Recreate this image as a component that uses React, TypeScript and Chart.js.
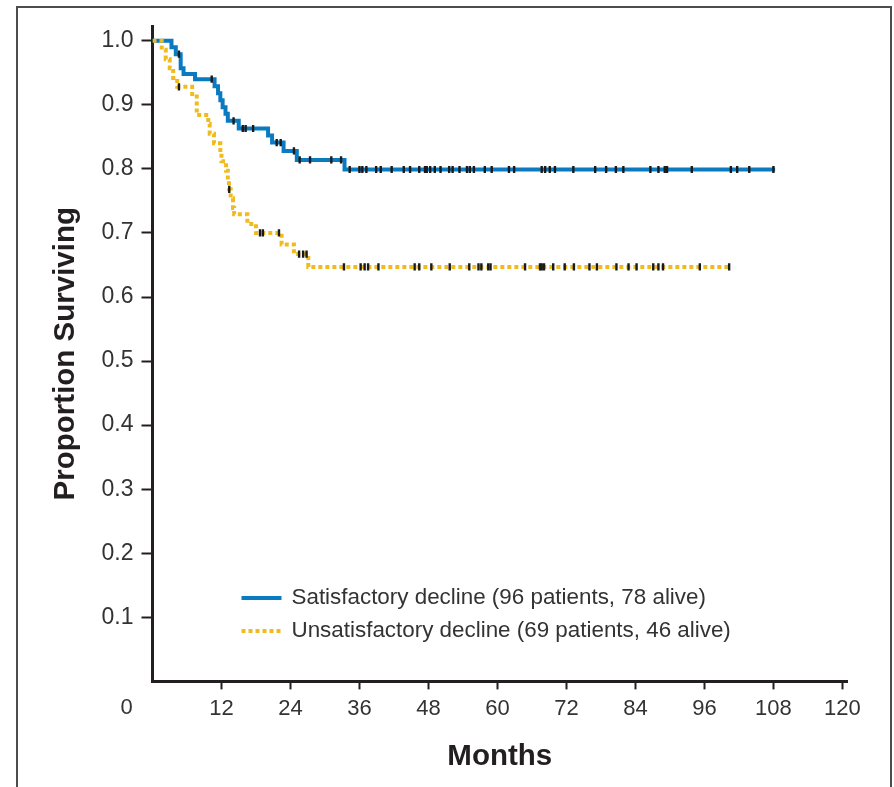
import React, { useEffect, useRef } from "react";
import { Chart, registerables } from "chart.js";

Chart.register(...registerables);

// ---- Data ----
// Kaplan-Meier step points: time in months, survival proportion after the event
const satisfactoryTimes = [0, 3.3, 4.05, 4.9, 5.4, 7.4, 10.8, 11.4, 11.8, 12.2, 12.7, 13.1, 15.0, 20.1, 20.8, 22.8, 25.1, 33.4, 108.3];
const satisfactorySurvival = [1.0, 0.99, 0.979, 0.957, 0.948, 0.94, 0.929, 0.918, 0.907, 0.896, 0.886, 0.875, 0.863, 0.852, 0.841, 0.828, 0.814, 0.799, 0.799];
const satisfactoryCensored = [4.6, 10.3, 14.1, 15.7, 16.2, 17.5, 21.6, 22.3, 24.6, 25.6, 27.4, 31.1, 32.8, 34.3, 36.0, 36.5, 37.2, 38.9, 39.7, 41.6, 43.7, 44.8, 46.4, 47.4, 47.7, 48.3, 49.1, 50.1, 51.6, 52.2, 53.4, 54.7, 55.2, 55.9, 57.8, 59.0, 62.0, 62.9, 67.7, 68.3, 69.1, 70.0, 73.2, 77.0, 78.9, 80.6, 81.9, 86.6, 88.0, 89.1, 89.5, 93.8, 100.6, 101.7, 103.8, 108.0];

const unsatisfactoryTimes = [0, 1.6, 2.3, 3.0, 3.6, 4.3, 6.9, 7.7, 9.7, 9.95, 10.7, 11.8, 12.0, 12.8, 13.1, 13.3, 13.6, 14.0, 14.2, 16.5, 18.0, 22.45, 24.6, 27.1, 100.5];
const unsatisfactorySurvival = [1.0, 0.986, 0.971, 0.957, 0.942, 0.928, 0.913, 0.884, 0.87, 0.855, 0.84, 0.826, 0.812, 0.797, 0.783, 0.768, 0.754, 0.739, 0.729, 0.714, 0.7, 0.682, 0.667, 0.647, 0.647];
const unsatisfactoryCensored = [4.6, 13.35, 18.7, 19.2, 22.0, 25.5, 26.2, 26.8, 33.3, 36.2, 36.9, 37.5, 39.3, 45.6, 46.4, 48.5, 51.7, 55.1, 56.7, 57.2, 58.4, 58.8, 64.8, 67.4, 67.7, 68.1, 69.7, 71.7, 73.3, 76.0, 77.3, 80.7, 82.8, 84.2, 87.1, 88.0, 88.8, 95.2, 100.3];

const seriesLabels = [
  "Satisfactory decline (96 patients, 78 alive)",
  "Unsatisfactory decline (69 patients, 46 alive)",
];
const xTickValues = [12, 24, 36, 48, 60, 72, 84, 96, 108, 120];
const yTickValues = [0.1, 0.2, 0.3, 0.4, 0.5, 0.6, 0.7, 0.8, 0.9, 1.0];
const originLabel = "0";
const xTitle = "Months";
const yTitle = "Proportion Surviving";

// ---- Styles ----
const BLUE = "#0a7bc1";
const YELLOW = "#f0bb1e";
const INK = "#231f20";
const MARK = "#1a1a1a";
const TEXT = "#333333";
const TICK_FONT = '"Liberation Sans", Arial, Helvetica, sans-serif';
const TITLE_FONT = '"Liberation Sans", Arial, Helvetica, sans-serif';

function survivalAt(times: number[], surv: number[], t: number): number {
  let v = surv[0];
  for (let i = 0; i < times.length; i++) {
    if (times[i] <= t) v = surv[i];
  }
  return v;
}

const originLabelPlugin = {
  id: "originLabel",
  afterDraw(chart: any) {
    const { ctx, chartArea, scales } = chart;
    const x0 = scales.x.getPixelForValue(0);
    ctx.save();
    ctx.font = `22px ${TICK_FONT}`;
    ctx.fillStyle = TEXT;
    ctx.textAlign = "center";
    ctx.textBaseline = "middle";
    ctx.fillText(originLabel, x0 - 26, chartArea.bottom + 26.6);
    ctx.restore();
  },
};

const legendPlugin = {
  id: "kmLegend",
  afterDraw(chart: any) {
    const { ctx, chartArea } = chart;
    const items = chart.data.datasets.filter((d: any) => !d.isCensor);
    const order = seriesLabels.map((l) => items.find((d: any) => d.label === l)).filter(Boolean);
    const x0 = chartArea.left + 89;
    const rows = [chartArea.bottom - 83.5, chartArea.bottom - 50.5];
    ctx.save();
    order.forEach((ds: any, i: number) => {
      const y = rows[i];
      ctx.beginPath();
      ctx.strokeStyle = ds.borderColor;
      ctx.lineWidth = ds.borderWidth;
      ctx.lineCap = "butt";
      ctx.setLineDash(ds.borderDash || []);
      ctx.moveTo(x0, y);
      ctx.lineTo(x0 + 40, y);
      ctx.stroke();
      ctx.setLineDash([]);
      ctx.font = `22.4px ${TICK_FONT}`;
      ctx.fillStyle = TEXT;
      ctx.textAlign = "left";
      ctx.textBaseline = "middle";
      ctx.fillText(ds.label, x0 + 50, y);
    });
    ctx.restore();
  },
};

export default function App() {
  const ref = useRef<HTMLCanvasElement | null>(null);

  useEffect(() => {
    const canvas = ref.current;
    if (!canvas) return;

    const satPts = satisfactoryTimes.map((t, i) => ({ x: t, y: satisfactorySurvival[i] }));
    const unsatPts = unsatisfactoryTimes.map((t, i) => ({ x: t, y: unsatisfactorySurvival[i] }));
    const satCens = satisfactoryCensored.map((t) => ({ x: t, y: survivalAt(satisfactoryTimes, satisfactorySurvival, t) }));
    const unsatCens = unsatisfactoryCensored.map((t) => ({ x: t, y: survivalAt(unsatisfactoryTimes, unsatisfactorySurvival, t) }));

    const censorStyle = {
      type: "scatter" as const,
      showLine: false,
      pointStyle: "line",
      pointRadius: 3.6,
      pointHoverRadius: 3.6,
      pointBorderWidth: 2.4,
      pointRotation: 90,
      pointBorderColor: MARK,
      pointBackgroundColor: MARK,
      borderColor: MARK,
      backgroundColor: MARK,
      isCensor: true,
      order: 0,
    };

    const chart = new Chart(canvas, {
      type: "line",
      data: {
        datasets: [
          { ...censorStyle, label: "sat-censored", data: satCens } as any,
          { ...censorStyle, label: "unsat-censored", data: unsatCens } as any,
          {
            type: "line",
            label: seriesLabels[1],
            data: unsatPts,
            stepped: true,
            borderColor: YELLOW,
            backgroundColor: YELLOW,
            borderWidth: 4,
            borderDash: [4, 3],
            borderCapStyle: "butt",
            pointRadius: 0,
            fill: false,
            order: 1,
          } as any,
          {
            type: "line",
            label: seriesLabels[0],
            data: satPts,
            stepped: true,
            borderColor: BLUE,
            backgroundColor: BLUE,
            borderWidth: 4,
            pointRadius: 0,
            fill: false,
            order: 2,
          } as any,
        ],
      },
      options: {
        animation: false,
        responsive: false,
        devicePixelRatio: 1,
        layout: { padding: { left: 0, right: 47, top: 26, bottom: 0 } },
        plugins: { legend: { display: false }, tooltip: { enabled: false } },
        scales: {
          x: {
            type: "linear",
            min: 0,
            max: 120.8,
            afterBuildTicks: (s: any) => {
              s.ticks = xTickValues.map((v) => ({ value: v }));
            },
            afterFit: (s: any) => {
              s.height = 105.6;
            },
            grid: { drawOnChartArea: false, drawTicks: true, tickLength: 8, tickWidth: 2, tickColor: INK },
            border: { display: true, color: INK, width: 3 },
            ticks: {
              autoSkip: false,
              maxRotation: 0,
              padding: 6,
              color: TEXT,
              font: { family: TICK_FONT, size: 22 },
              callback: (v: any) => String(v),
            },
            title: {
              display: true,
              text: xTitle,
              color: INK,
              font: { family: TITLE_FONT, size: 29.5, weight: "bold" },
              padding: { top: 0, bottom: 12 },
            },
          },
          y: {
            type: "linear",
            min: 0,
            max: 1.023,
            afterBuildTicks: (s: any) => {
              s.ticks = yTickValues.map((v) => ({ value: v }));
            },
            afterFit: (s: any) => {
              s.width = 152.5;
            },
            grid: { drawOnChartArea: false, drawTicks: true, tickLength: 11, tickWidth: 2, tickColor: INK },
            border: { display: true, color: INK, width: 3 },
            ticks: {
              autoSkip: false,
              padding: 8,
              color: TEXT,
              font: { family: TICK_FONT, size: 23 },
              callback: (v: any) => Number(v).toFixed(1),
            },
            title: {
              display: true,
              text: yTitle,
              color: INK,
              font: { family: TITLE_FONT, size: 29.5, weight: "bold" },
              padding: { top: 48, bottom: 0 },
            },
          },
        },
      },
      plugins: [originLabelPlugin, legendPlugin],
    });

    return () => chart.destroy();
  }, []);

  return (
    <div
      style={{
        position: "fixed",
        left: 0,
        top: 0,
        width: 894,
        height: 787,
        overflow: "hidden",
        background: "#ffffff",
      }}
    >
      <canvas ref={ref} width={894} height={787} style={{ display: "block", width: 894, height: 787 }} />
      <div
        style={{
          position: "absolute",
          left: 16,
          top: 6,
          width: 876,
          height: 820,
          border: "2px solid #4d4d4d",
          borderBottom: "none",
          boxSizing: "border-box",
          pointerEvents: "none",
        }}
      />
    </div>
  );
}
